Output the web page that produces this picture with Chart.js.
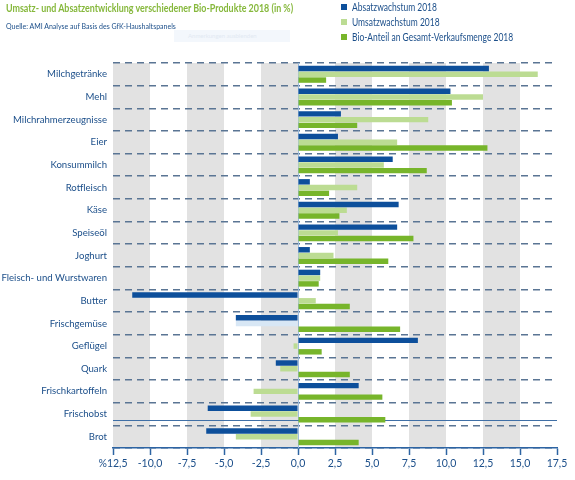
<!DOCTYPE html>
<html>
<head>
<meta charset="utf-8">
<script src="https://cdn.jsdelivr.net/npm/chart.js@4"></script>
<style>
  body { margin: 0; background: #fff; }
  #wrap { position: relative; width: 575px; height: 480px; font-family: Lato, sans-serif; }
  #title { position: absolute; left: 6px; top: 1px; font-size: 11px; font-weight: bold; color: #86b83c; white-space: nowrap; transform: scaleX(0.81); transform-origin: 0 0; }
  #source { position: absolute; left: 6px; top: 22px; font-size: 7px; color: #1c4f8a; white-space: nowrap; }
  #note { position: absolute; left: 174px; top: 30px; width: 116px; height: 12px; background: #f3f7fc; color: #e2e9f2; font-size: 6px; line-height: 12px; padding-left: 14px; box-sizing: border-box; }
  #legend { position: absolute; left: 341px; top: 0px; font-size: 11px; color: #1c4f8a; }
  #legend div { height: 15px; line-height: 14px; white-space: nowrap; }
  #legend span { display: inline-block; width: 6px; height: 6px; margin-right: 5px; vertical-align: 1px; }
  #legend b { font-weight: normal; display: inline-block; transform: scaleX(0.77); transform-origin: 0 50%; }
  canvas { position: absolute; left: 0; top: 0; }
</style>
</head>
<body>
<div id="wrap">
  <canvas id="myChart" width="575" height="480"></canvas>
  <div id="title">Umsatz- und Absatzentwicklung verschiedener Bio-Produkte 2018 (in %)</div>
  <div id="source">Quelle: AMI Analyse auf Basis des GfK-Haushaltspanels</div>
  <div id="note">Anmerkungen ausblenden</div>
  <div id="legend"></div>
</div>
<script>
var categories = ['Milchgetränke', 'Mehl', 'Milchrahmerzeugnisse', 'Eier', 'Konsummilch', 'Rotfleisch', 'Käse', 'Speiseöl', 'Joghurt', 'Fleisch- und Wurstwaren', 'Butter', 'Frischgemüse', 'Geflügel', 'Quark', 'Frischkartoffeln', 'Frischobst', 'Brot'];
var absatz = [12.9, 10.3, 2.9, 2.7, 6.4, 0.8, 6.8, 6.7, 0.8, 1.5, -11.2, -4.2, 8.1, -1.5, 4.1, -6.1, -6.2];
var umsatz = [16.2, 12.5, 8.8, 6.7, 5.8, 4.0, 3.3, 2.7, 2.4, 1.5, 1.2, -4.2, -0.3, -1.2, -3.0, -3.2, -4.2];
var anteil = [1.9, 10.4, 4.0, 12.8, 8.7, 2.1, 2.8, 7.8, 6.1, 1.4, 3.5, 6.9, 1.6, 3.5, 5.7, 5.9, 4.1];
var seriesNames = ['Absatzwachstum 2018', 'Umsatzwachstum 2018', 'Bio-Anteil an Gesamt-Verkaufsmenge 2018'];
var xTickLabels = ['%12,5', '-10,0', '-7,5', '-5,0', '-2,5', '0,0', '2,5', '5,0', '7,5', '10,0', '12,5', '15,0', '17,5'];

var blue = '#0d4f9b', lightGreen = '#bcdc93', green = '#77b52b', textBlue = '#1c4f8a';
var colors = [blue, lightGreen, green];

// legend
var legendHtml = '';
for (var i = 0; i < seriesNames.length; i++) {
    legendHtml += '<div><span style="background:' + colors[i] + '"></span><b>' + seriesNames[i] + '</b></div>';
}
document.getElementById('legend').innerHTML = legendHtml;

// one pale bar in the second series
var umsatzColors = umsatz.map(function (v, i) { return categories[i] === 'Frischgemüse' ? '#d8e7f5' : lightGreen; });

var bandsPlugin = {
    id: 'bands',
    beforeDraw: function (chart) {
        var x = chart.scales.x, a = chart.chartArea, ctx = chart.ctx;
        ctx.save();
        ctx.fillStyle = '#e2e2e2';
        for (var v = x.min; v < x.max; v += 5) {
            var x0 = x.getPixelForValue(v), x1 = x.getPixelForValue(v + 2.5);
            ctx.fillRect(x0, a.top, x1 - x0, a.bottom - a.top);
        }
        ctx.restore();
    },
    beforeDatasetsDraw: function (chart) {
        var x = chart.scales.x, y = chart.scales.y, a = chart.chartArea, ctx = chart.ctx;
        ctx.save();
        // zero line
        ctx.strokeStyle = '#9dbcdc';
        ctx.lineWidth = 1;
        var zx = Math.round(x.getPixelForValue(0)) + 0.5;
        ctx.beginPath(); ctx.moveTo(zx, a.top); ctx.lineTo(zx, a.bottom); ctx.stroke();
        // solid separator above Brot
        ctx.strokeStyle = '#3f6fa6';
        var sy = Math.round(y.getPixelForValue(15.27)) + 0.5;
        ctx.beginPath(); ctx.moveTo(a.left, sy); ctx.lineTo(a.right, sy); ctx.stroke();
        ctx.restore();
    }
};

var ctx = document.getElementById('myChart');
new Chart(ctx, {
    type: 'bar',
    data: {
        labels: categories,
        datasets: [
            { label: seriesNames[0], data: absatz, backgroundColor: blue },
            { label: seriesNames[1], data: umsatz, backgroundColor: umsatzColors },
            { label: seriesNames[2], data: anteil, backgroundColor: green }
        ]
    },
    options: {
        indexAxis: 'y',
        responsive: false,
        animation: false,
        categoryPercentage: 0.76,
        barPercentage: 0.95,
        layout: { padding: { top: 63, right: 18, left: 0, bottom: 0 } },
        plugins: { legend: { display: false }, tooltip: { enabled: false } },
        scales: {
            x: {
                min: -12.5,
                max: 17.5,
                afterFit: function (scale) { scale.height = 32; },
                ticks: {
                    stepSize: 2.5,
                    padding: 2,
                    color: textBlue,
                    font: { family: 'Lato, sans-serif', size: 10.5 },
                    callback: function (value, index) { return xTickLabels[index]; }
                },
                grid: { drawOnChartArea: false, drawTicks: true, tickLength: 7, tickColor: '#2d64a3', tickWidth: 1.5 },
                border: { color: '#2d64a3', width: 1.5 }
            },
            y: {
                afterFit: function (scale) { scale.width = 113; },
                ticks: {
                    padding: 6,
                    color: textBlue,
                    font: { family: 'Lato, sans-serif', size: 9.6 }
                },
                grid: { offset: true, drawTicks: false, color: '#5a7594', lineWidth: 1.5, borderDash: [7, 5] },
                border: { display: false, dash: [7, 5] }
            }
        }
    },
    plugins: [bandsPlugin]
});
</script>
</body>
</html>
